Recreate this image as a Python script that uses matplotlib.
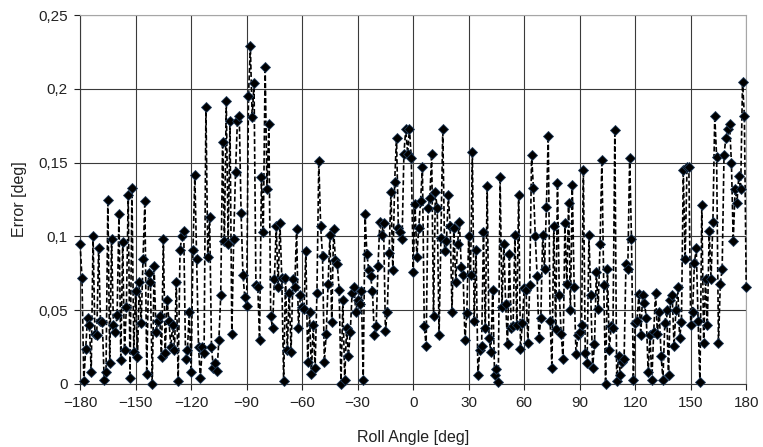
import matplotlib
import matplotlib.pyplot as plt
import numpy as np
from matplotlib.ticker import FuncFormatter, MultipleLocator

matplotlib.use("Agg")

# Roll angle, one sample per degree from -180 to 180
roll_angle = np.arange(-180, 181)

# Error [deg], grouped by angle span
err_m180_m130 = [
    0.095, 0.072, 0.002, 0.024, 0.045, 0.040, 0.008, 0.100, 0.034, 0.033,
    0.092, 0.043, 0.042, 0.003, 0.008, 0.125, 0.014, 0.098, 0.040, 0.035,
    0.047, 0.115, 0.016, 0.096, 0.023, 0.052, 0.128, 0.004, 0.133, 0.022,
    0.063, 0.018, 0.069, 0.041, 0.085, 0.124, 0.007, 0.075, 0.069, 0.000,
    0.080, 0.035, 0.043, 0.046, 0.018, 0.098, 0.021, 0.057, 0.043, 0.025,
    0.040,
]
err_m129_m77 = [
    0.023, 0.069, 0.002, 0.091, 0.100, 0.104, 0.017, 0.023, 0.049, 0.008,
    0.091, 0.142, 0.085, 0.025, 0.004, 0.025, 0.021, 0.188, 0.086, 0.113,
    0.025, 0.011, 0.014, 0.009, 0.030, 0.060, 0.164, 0.097, 0.192, 0.095,
    0.178, 0.034, 0.098, 0.144, 0.178, 0.182, 0.116, 0.074, 0.059, 0.053,
    0.195, 0.229, 0.181, 0.204, 0.067, 0.066, 0.030, 0.140, 0.103, 0.215,
    0.132, 0.176, 0.046,
]
err_m76_m25 = [
    0.038, 0.071, 0.107, 0.066, 0.109, 0.072, 0.002, 0.072, 0.023, 0.062,
    0.022, 0.071, 0.066, 0.105, 0.038, 0.060, 0.052, 0.051, 0.090, 0.015,
    0.049, 0.007, 0.040, 0.011, 0.062, 0.151, 0.107, 0.087, 0.015, 0.034,
    0.068, 0.101, 0.042, 0.105, 0.084, 0.081, 0.064, 0.000, 0.057, 0.003,
    0.038, 0.019, 0.035, 0.062, 0.066, 0.049, 0.057, 0.054, 0.063, 0.003,
    0.115, 0.088,
]
err_m24_28 = [
    0.077, 0.073, 0.063, 0.033, 0.039, 0.080, 0.110, 0.101, 0.109, 0.036,
    0.049, 0.089, 0.130, 0.077, 0.137, 0.167, 0.106, 0.103, 0.098, 0.156,
    0.173, 0.156, 0.173, 0.153,
    0.076, 0.122, 0.086, 0.106, 0.124, 0.147, 0.039, 0.026, 0.119, 0.126,
    0.156, 0.046, 0.130, 0.119, 0.033, 0.099, 0.173, 0.090, 0.097, 0.128,
    0.107, 0.049, 0.106, 0.069, 0.095, 0.110, 0.079, 0.074, 0.030,
]
err_29_78 = [
    0.048, 0.100, 0.074, 0.157, 0.043, 0.091, 0.006, 0.023, 0.026, 0.103,
    0.038, 0.134, 0.031, 0.022, 0.064, 0.006, 0.010, 0.001, 0.140, 0.052,
    0.095, 0.054, 0.027, 0.088, 0.038, 0.039, 0.101, 0.040, 0.128, 0.024,
    0.041, 0.065, 0.064, 0.028, 0.067, 0.155, 0.133, 0.100, 0.073, 0.031,
    0.045, 0.101, 0.078, 0.120, 0.168, 0.043, 0.011, 0.107, 0.037, 0.136,
]
err_79_126 = [
    0.060, 0.034, 0.017, 0.109, 0.068, 0.123, 0.050, 0.135, 0.066, 0.020,
    0.033, 0.035, 0.040, 0.145, 0.021, 0.014, 0.101, 0.060, 0.011, 0.027,
    0.076, 0.051, 0.095, 0.152, 0.067, 0.000, 0.078, 0.023, 0.039, 0.038,
    0.172, 0.002, 0.019, 0.006, 0.015, 0.017, 0.081, 0.078, 0.153, 0.098,
    0.003, 0.041, 0.043, 0.061, 0.033, 0.060, 0.055, 0.045,
]
err_127_180 = [
    0.008, 0.033, 0.003, 0.035, 0.062, 0.034, 0.049, 0.019, 0.003, 0.041,
    0.050, 0.006, 0.057, 0.060, 0.026, 0.050, 0.066, 0.031, 0.042, 0.145,
    0.085, 0.147, 0.147, 0.040, 0.049, 0.082, 0.092, 0.043, 0.001, 0.121,
    0.028, 0.071, 0.040, 0.104, 0.071, 0.110, 0.182, 0.154, 0.028, 0.068,
    0.078, 0.155, 0.167, 0.173, 0.176, 0.150, 0.097, 0.132, 0.123, 0.141,
    0.132, 0.205, 0.182, 0.066,
]

error = (err_m180_m130 + err_m129_m77 + err_m76_m25 + err_m24_28
         + err_29_78 + err_79_126 + err_127_180)

plt.rcParams["font.family"] = ["Liberation Sans", "DejaVu Sans"]

fig = plt.figure(figsize=(7.63, 4.47), dpi=100)
ax = fig.add_axes([0.105, 0.141, 0.873, 0.825])

ax.plot(roll_angle, error, color="black", linewidth=1.2,
        linestyle=(0, (3, 1.5)), marker="D", markersize=4.8,
        markerfacecolor="black", markeredgecolor="#1f3a5a",
        markeredgewidth=0.6, zorder=3, clip_on=False)

ax.set_xlim(-180, 180)
ax.set_ylim(0, 0.25)
ax.xaxis.set_major_locator(MultipleLocator(30))
ax.yaxis.set_major_locator(MultipleLocator(0.05))


def comma_fmt(v, pos):
    s = f"{v:.2f}".rstrip("0").rstrip(".")
    return s.replace(".", ",")


ax.yaxis.set_major_formatter(FuncFormatter(comma_fmt))

ax.grid(True, color="#3a3a3a", linewidth=0.8)
ax.set_axisbelow(True)
for side in ("top", "right"):
    ax.spines[side].set_color("#a6a6a6")
for side in ("left", "bottom"):
    ax.spines[side].set_color("#3a3a3a")
for s in ax.spines.values():
    s.set_linewidth(0.8)

ax.tick_params(axis="both", labelsize=11, colors="#222222", length=4,
               width=0.8, direction="out", pad=5)
ax.set_xlabel("Roll Angle [deg]", fontsize=11.5, color="#222222", labelpad=14)
ax.set_ylabel("Error [deg]", fontsize=11.5, color="#222222", labelpad=8)

fig.savefig("out.png", dpi=100)
plt.close(fig)
